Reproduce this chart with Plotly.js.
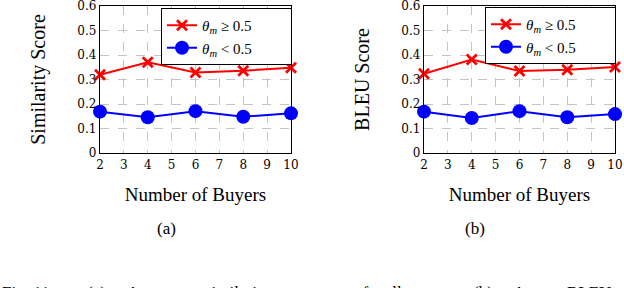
<!DOCTYPE html>
<html>
<head>
<meta charset="utf-8">
<script src="https://cdn.plot.ly/plotly-3.0.1.min.js"></script>
<style>html,body{margin:0;padding:0;background:#fff;}#chart{width:624px;height:288px;}</style>
</head>
<body>
<div id="chart"></div>
<script>
const buyers = [2, 4, 6, 8, 10];
const simHigh = [0.320, 0.371, 0.329, 0.336, 0.348];
const simLow  = [0.169, 0.146, 0.171, 0.148, 0.162];
const bleuHigh = [0.324, 0.382, 0.335, 0.340, 0.351];
const bleuLow  = [0.169, 0.143, 0.171, 0.146, 0.159];
const xTicks = [2, 3, 4, 5, 6, 7, 8, 9, 10];
const yTicks = [0, 0.1, 0.2, 0.3, 0.4, 0.5, 0.6];
const yTickText = ['0', '0.1', '0.2', '0.3', '0.4', '0.5', '0.6'];
const labelHigh = '<i>θ</i><sub><i>m</i></sub> ≥ 0.5';
const labelLow = '<i>θ</i><sub><i>m</i></sub> < 0.5';
const yTitles = ['Similarity Score', 'BLEU Score'];
const xTitle = 'Number of Buyers';
const captions = ['(a)', '(b)'];
const figWords = ['Fig. 11.', '(a)', 'Average', 'similarity', 'scores', 'of', 'sellers', '(b)', 'Average', 'BLEU'];
const figWordX = [0, 85, 125, 203, 296, 352, 376, 471, 511, 565];

const serif = '"Liberation Serif", "Times New Roman", serif';
const cm = '"DejaVu Serif", serif';
const red = '#ff0000', blue = '#0000ff';
const pad = '\u00a0'.repeat(9);

function series(x, y, name, color, symbol, size, xa, ya, legend) {
  return {
    x: x, y: y, name: name + pad, type: 'scatter', mode: 'lines+markers',
    xaxis: xa, yaxis: ya, legend: legend, cliponaxis: false,
    line: {color: color, width: 2},
    marker: {color: color, symbol: symbol, size: size, line: {width: 0}}
  };
}

const data = [
  series(buyers, simHigh, labelHigh, red, 'x-thin-open', 10, 'x', 'y', 'legend'),
  series(buyers, simLow, labelLow, blue, 'circle', 14, 'x', 'y', 'legend'),
  series(buyers, bleuHigh, labelHigh, red, 'x-thin-open', 10, 'x2', 'y2', 'legend2'),
  series(buyers, bleuLow, labelLow, blue, 'circle', 14, 'x2', 'y2', 'legend2')
];
data[0].marker.line = {color: red, width: 2.8};
data[2].marker.line = {color: red, width: 2.8};

function xaxis(domain, anchor) {
  return {
    domain: domain, anchor: anchor, range: [2, 10],
    tickvals: xTicks, ticktext: xTicks.map(String), ticklabeloverflow: 'allow',
    showgrid: true, gridcolor: '#c4c4c4', griddash: 'dash', gridwidth: 1,
    zeroline: false, showline: true, mirror: true, linecolor: '#000', linewidth: 1.2,
    ticks: '', tickfont: {family: cm, size: 12, color: '#000'},
    title: {text: xTitle, font: {family: serif, size: 19, color: '#000'}, standoff: 17},
    automargin: false
  };
}
function yaxis(domain, anchor, title) {
  return {
    domain: domain, anchor: anchor, range: [0, 0.6005],
    tickvals: yTicks, ticktext: yTickText, ticklabeloverflow: 'allow',
    showgrid: true, gridcolor: '#c4c4c4', griddash: 'dash', gridwidth: 1,
    zeroline: false, showline: true, mirror: true, linecolor: '#000', linewidth: 1.2,
    ticks: '', tickfont: {family: cm, size: 12, color: '#000'},
    title: {text: title, font: {family: serif, size: 20, color: '#000'}, standoff: 26},
    automargin: false
  };
}

const yDom = [1 - 153 / 288, 1 - 6 / 288];
const legendStyle = {
  bgcolor: '#fff', bordercolor: '#000', borderwidth: 1,
  font: {family: serif, size: 15, color: '#000'},
  xanchor: 'left', yanchor: 'top', tracegroupgap: 0
};

const annotations = [
  {text: captions[0], x: 155 / 624, y: 1 - 240 / 288, xref: 'paper', yref: 'paper', showarrow: false,
   font: {family: serif, size: 17, color: '#000'}},
  {text: captions[1], x: 487 / 624, y: 1 - 240 / 288, xref: 'paper', yref: 'paper', showarrow: false,
   font: {family: serif, size: 17, color: '#000'}}
];
figWords.forEach((w, i) => annotations.push({
  text: w, x: figWordX[i] / 624, y: 1 - 292 / 288, xref: 'paper', yref: 'paper',
  xanchor: 'left', yanchor: 'middle', showarrow: false,
  font: {family: serif, size: 17, color: '#000'}
}));

const layout = {
  width: 624, height: 288,
  margin: {l: 0, r: 0, t: 0, b: 0},
  paper_bgcolor: '#fff', plot_bgcolor: '#fff',
  showlegend: true,
  xaxis: xaxis([100 / 624, 291 / 624], 'y'),
  yaxis: yaxis(yDom, 'x', yTitles[0]),
  xaxis2: xaxis([424 / 624, 615 / 624], 'y2'),
  yaxis2: yaxis(yDom, 'x2', yTitles[1]),
  legend: Object.assign({x: 161 / 624, y: 1 - 8 / 288}, legendStyle),
  legend2: Object.assign({x: 485 / 624, y: 1 - 7 / 288}, legendStyle),
  annotations: annotations
};

Plotly.newPlot('chart', data, layout, {displayModeBar: false, staticPlot: true});
</script>
</body>
</html>
